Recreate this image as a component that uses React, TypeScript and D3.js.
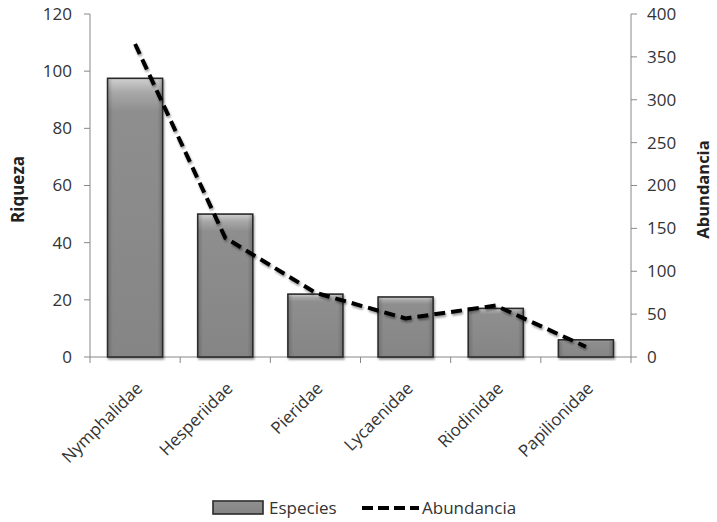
import React from "react";
import * as d3 from "d3";

const categories = ["Nymphalidae", "Hesperiidae", "Pieridae", "Lycaenidae", "Riodinidae", "Papilionidae"];
const especies = [97.5, 50, 22, 21, 17, 6];
const abundancia = [365, 139, 75, 45, 60, 12];
const leftTicks = [0, 20, 40, 60, 80, 100, 120];
const rightTicks = [0, 50, 100, 150, 200, 250, 300, 350, 400];

const W = 717, H = 522;
const left = 90, right = 631, top = 14, bottom = 357;
const font = "'Open Sans', Lato, sans-serif";

export default function App() {
  const x = d3.scaleBand<string>().domain(categories).range([left, right]).paddingInner(0.39).paddingOuter(0.195);
  const yL = d3.scaleLinear().domain([0, 120]).range([bottom, top]);
  const yR = d3.scaleLinear().domain([0, 400]).range([bottom, top]);
  const step = (right - left) / categories.length;
  const line = d3.line<number>().x((_, i) => (x(categories[i]) as number) + x.bandwidth() / 2).y(d => yR(d));
  const axisColor = "#888";
  return (
    <svg width={W} height={H} style={{ position: "absolute", left: 0, top: 0, background: "#fff" }}>
      <defs>
        <linearGradient id="barG" x1="0" y1="0" x2="0" y2="1">
          <stop offset="0" stopColor="#d0d0d0" />
          <stop offset="0.05" stopColor="#a8a8a8" />
          <stop offset="0.12" stopColor="#8e8e8e" />
          <stop offset="1" stopColor="#858585" />
        </linearGradient>
        <linearGradient id="barH" x1="0" y1="0" x2="1" y2="0">
          <stop offset="0" stopColor="#000" stopOpacity="0.15" />
          <stop offset="0.08" stopColor="#000" stopOpacity="0" />
          <stop offset="0.92" stopColor="#000" stopOpacity="0" />
          <stop offset="1" stopColor="#000" stopOpacity="0.15" />
        </linearGradient>
        <filter id="sh" x="-20%" y="-20%" width="140%" height="140%">
          <feGaussianBlur in="SourceAlpha" stdDeviation="1.2" />
          <feOffset dx="1" dy="2" result="b" />
          <feComponentTransfer><feFuncA type="linear" slope="0.4" /></feComponentTransfer>
          <feMerge><feMergeNode /><feMergeNode in="SourceGraphic" /></feMerge>
        </filter>
      </defs>
      <line x1={left} x2={left} y1={top} y2={bottom} stroke={axisColor} />
      <line x1={right} x2={right} y1={top} y2={bottom} stroke={axisColor} />
      <line x1={left} x2={right} y1={bottom} y2={bottom} stroke={axisColor} />
      {leftTicks.map(t => (
        <g key={"l" + t}>
          <line x1={left - 6} x2={left} y1={yL(t)} y2={yL(t)} stroke={axisColor} />
          <text x={left - 18} y={yL(t)} dy="0.35em" textAnchor="end" fontSize={17} fontFamily={font} fill="#333">{t}</text>
        </g>
      ))}
      {rightTicks.map(t => (
        <g key={"r" + t}>
          <line x1={right} x2={right + 6} y1={yR(t)} y2={yR(t)} stroke={axisColor} />
          <text x={right + 16} y={yR(t)} dy="0.35em" textAnchor="start" fontSize={17} fontFamily={font} fill="#333">{t}</text>
        </g>
      ))}
      {d3.range(categories.length + 1).map(i => (
        <line key={"c" + i} x1={left + i * step} x2={left + i * step} y1={bottom} y2={bottom + 6} stroke={axisColor} />
      ))}
      {especies.map((v, i) => {
        const bx = x(categories[i]) as number;
        const by = yL(v);
        const bh = bottom - by;
        return (
          <g key={"b" + i} filter="url(#sh)">
            <rect x={bx} y={by} width={x.bandwidth()} height={bh} fill="url(#barG)" stroke="#2a2a2a" strokeWidth={1.6} />
            <rect x={bx + 1} y={by + 1} width={x.bandwidth() - 2} height={Math.max(0, bh - 2)} fill="url(#barH)" />
          </g>
        );
      })}
      <path d={line(abundancia) || ""} fill="none" stroke="#000" strokeWidth={4} strokeDasharray="11,6" filter="url(#sh)" />
      {categories.map((c, i) => {
        const cx = (x(c) as number) + x.bandwidth() / 2;
        const cy = bottom + 24;
        return (
          <text key={"t" + c} x={cx} y={cy} transform={`rotate(-45,${cx},${cy})`} textAnchor="end" dy="0.7em" fontSize={17} fontFamily={font} fill="#333">{c}</text>
        );
      })}
      <text transform={`translate(24,${(top + bottom) / 2 + 4}) rotate(-90)`} textAnchor="middle" fontSize={17} fontWeight="bold" fontFamily={font} fill="#222">Riqueza</text>
      <text transform={`translate(697,${(top + bottom) / 2 + 4}) rotate(-90)`} textAnchor="middle" dy="0.7em" fontSize={16.5} fontWeight="bold" fontFamily={font} fill="#222">Abundancia</text>
      <rect x={213} y={501} width={50} height={13} fill="url(#barG)" stroke="#2a2a2a" strokeWidth={1.6} />
      <text x={269} y={508} dy="0.35em" fontSize={17} fontFamily={font} fill="#333">Especies</text>
      <line x1={362} x2={419} y1={508} y2={508} stroke="#000" strokeWidth={4} strokeDasharray="11,5" />
      <text x={422} y={508} dy="0.35em" fontSize={17} fontFamily={font} fill="#333">Abundancia</text>
    </svg>
  );
}
